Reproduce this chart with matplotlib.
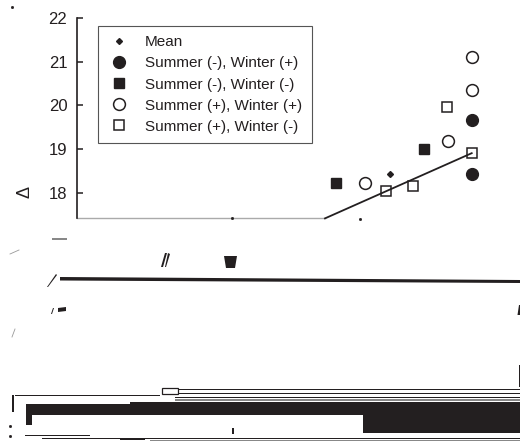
import matplotlib
matplotlib.use("Agg")
import matplotlib.pyplot as plt
from matplotlib.patches import Polygon, Rectangle

plt.rcParams['font.family'] = ['Liberation Sans', 'DejaVu Sans']
INK = '#231f20'

# (the x axis has no readable scale, so x is in picture units)
y_ticks = [18, 19, 20, 21, 22]
legend_labels = ['Mean', 'Summer (-), Winter (+)', 'Summer (-), Winter (-)',
                 'Summer (+), Winter (+)', 'Summer (+), Winter (-)']
mean_x, mean_y = [390], [18.43]
sm_wp_x, sm_wp_y = [471.7, 471.7], [19.68, 18.43]
sm_wm_x, sm_wm_y = [335.7, 424.3], [18.23, 19.00]
sp_wp_x, sp_wp_y = [471.7, 471.7, 448, 364.7], [21.10, 20.35, 19.20, 18.23]
sp_wm_x, sp_wm_y = [446.7, 471.7, 386.3, 412.7], [19.97, 18.91, 18.05, 18.15]
trend_x, trend_y = [325, 471.7], [17.42, 18.91]

# Damaged scan regions (picture pixels): solid bands x0, x1, y0, y1
bands = [(26, 520, 404, 415), (26, 32, 404, 425), (363, 520, 404, 433),
         (130, 520, 402, 404), (175, 520, 388.5, 390), (178, 520, 392.5, 394),
         (15, 160, 395, 396.2), (175, 520, 396.5, 398), (12, 14, 395, 412),
         (42, 520, 437.5, 439), (25, 90, 434.5, 435.5), (120, 145, 438, 440),
         (518.5, 520, 365, 387), (232, 233.5, 428, 434)]
gray_bands = [(175, 520, 399, 401), (150, 520, 439.5, 441), (52, 67, 238, 240)]
shards = [[(224, 256), (237, 256), (235, 268), (226, 268)],
          [(60, 277), (520, 280), (520, 283), (60, 280.5)],
          [(161, 267), (165, 253), (167, 253), (163, 267)],
          [(165, 267), (168, 253), (170, 254), (166, 267)],
          [(58, 308), (66, 307), (66, 311), (58, 312)],
          [(51, 314), (53, 308), (54, 308), (52, 314)],
          [(47, 287), (56, 274), (57, 275), (48, 287)],
          [(517.5, 315), (519, 305), (520, 305), (520, 315)]]
frame_box = (162, 178, 388, 394)
specks = [(12, 7), (10, 426), (10, 436), (360, 219), (232, 218)]
faint_strokes = [[(12, 337), (15, 329)], [(10, 254), (19, 250)]]

fig = plt.figure(figsize=(5.2, 4.45), dpi=100)
W, H = 520, 445
ax = fig.add_axes([77 / W, 1 - 218 / H, (W - 77) / W, 200 / H])
ax.set_xlim(77, 520)
ax.set_ylim(18 - 25 / 43.75, 22)
for s in ['top', 'right', 'bottom']:
    ax.spines[s].set_visible(False)
ax.spines['left'].set_linewidth(1.2)
ax.spines['left'].set_color(INK)
ax.set_xticks([])
ax.set_yticks(y_ticks)
ax.tick_params(axis='y', direction='in', length=4, width=1.1, color=INK,
               labelsize=12, labelcolor=INK, pad=7)
ax.plot([77, 325], [17.43, 17.43], color='#aaaaaa', lw=1.0, clip_on=False, zorder=1)

ax.plot(trend_x, trend_y, color=INK, lw=1.3, zorder=2, clip_on=False)
h0, = ax.plot(mean_x, mean_y, ls='', marker='D', ms=3, color=INK, zorder=3)
h1, = ax.plot(sm_wp_x, sm_wp_y, ls='', marker='o', ms=8.5, color=INK, zorder=3)
h2, = ax.plot(sm_wm_x, sm_wm_y, ls='', marker='s', ms=7.5, color=INK, zorder=3)
h3, = ax.plot(sp_wp_x, sp_wp_y, ls='', marker='o', ms=8.5, mfc='none', mec=INK, mew=1.1, zorder=3)
h4, = ax.plot(sp_wm_x, sp_wm_y, ls='', marker='s', ms=7.5, mfc='none', mec=INK, mew=1.1, zorder=3)

leg = ax.legend([h0, h1, h2, h3, h4], legend_labels, loc='upper left', numpoints=1,
                bbox_to_anchor=((97.5 - 77) / 443, 1 - (26 - 18) / 200),
                borderaxespad=0, fontsize=11, fancybox=False, framealpha=1,
                edgecolor='#555555', labelspacing=0.46, handletextpad=0.9,
                handlelength=1.6, borderpad=0.62, labelcolor=INK)
leg.get_frame().set_linewidth(0.8)

fig.text(25 / W, 1 - 192 / H, 'Δ', rotation=90, fontsize=13, color=INK, ha='center', va='center')

# Overlay for the scan damage, in picture pixels
ov = fig.add_axes([0, 0, 1, 1], facecolor='none')
ov.set_xlim(0, W)
ov.set_ylim(H, 0)
ov.axis('off')
for x0, x1, y0, y1 in bands:
    ov.add_patch(Rectangle((x0, y0), x1 - x0, y1 - y0, fc=INK, ec='none'))
for x0, x1, y0, y1 in gray_bands:
    ov.add_patch(Rectangle((x0, y0), x1 - x0, y1 - y0, fc='#888888', ec='none'))
for pts in shards:
    ov.add_patch(Polygon(pts, closed=True, fc=INK, ec='none'))
for pts in faint_strokes:
    ov.plot([p[0] for p in pts], [p[1] for p in pts], color='#999999', lw=0.6)
x0, x1, y0, y1 = frame_box
ov.add_patch(Rectangle((x0, y0), x1 - x0, y1 - y0, fc='white', ec=INK, lw=0.9))
ov.plot([p[0] for p in specks], [p[1] for p in specks], ls='', marker='s', ms=1, color=INK)

fig.savefig('out.png', dpi=100)
